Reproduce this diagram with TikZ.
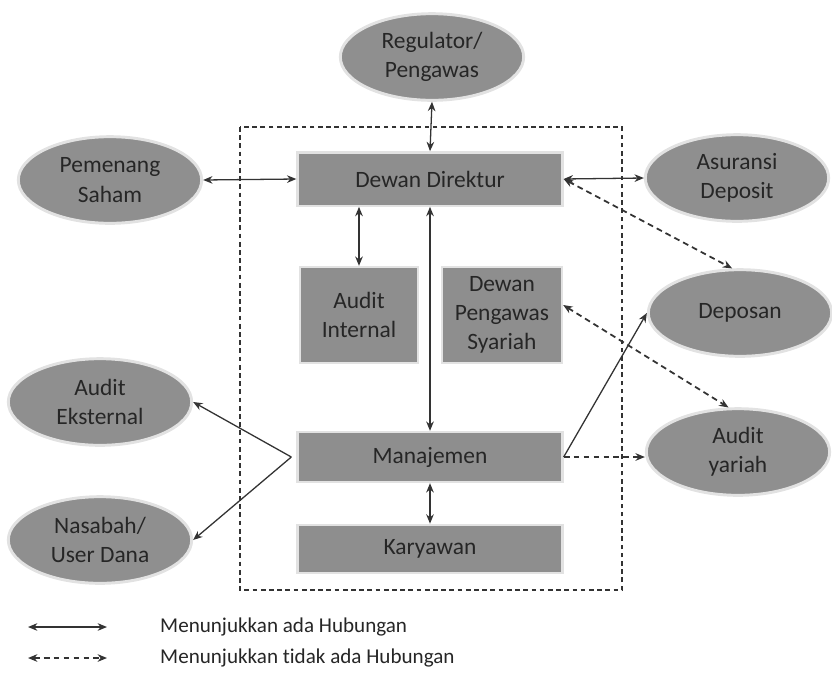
\documentclass[tikz,border=0pt]{standalone}
\usepackage{fontspec}
\setmainfont[Ligatures=NoCommon]{Carlito}
\usetikzlibrary{arrows.meta, positioning, shapes.geometric}
\definecolor{ovalfill}{HTML}{8F8F8F}
\definecolor{boxfill}{HTML}{8E8E8E}
\definecolor{rim}{HTML}{E2E2E2}
\definecolor{ink}{HTML}{262626}
\definecolor{linegray}{HTML}{333333}
\newcommand{\labelfont}{\fontsize{20}{25}\selectfont}
\newcommand{\legendfont}{\fontsize{18}{22}\selectfont}

\begin{document}
\begin{tikzpicture}[
    x=0.03cm, y=-0.03cm,
    >={Stealth[length=8pt, width=6.5pt]},
    party/.style={ellipse, draw=rim, line width=2.5pt, fill=ovalfill, minimum width=5.5cm, minimum height=2.6cm, inner sep=0pt, align=center, text=ink, font=\labelfont},
    unit/.style={draw=rim, line width=2pt, fill=boxfill, minimum width=#1, inner sep=0pt, align=center, text=ink, font=\labelfont},
    frame/.style={linegray, line width=1pt, dash pattern=on 4pt off 3pt},
    rel/.style={linegray, line width=1.1pt},
    norel/.style={linegray, line width=1.5pt, dash pattern=on 5pt off 3.5pt},
]
    \useasboundingbox (0,0) rectangle (832,686);

    % Bank boundary
    \draw[frame] (240,127) rectangle (622,590);

    % Outside parties
    \node[party] (regulator) at (432,57) {Regulator/\\Pengawas};
    \node[party] (pemegang) at (110,180) {Pemenang\\Saham};
    \node[party] (asuransi) at (737,178) {Asuransi\\Deposit};
    \node[party] (deposan) at (740,313) {Deposan};
    \node[party] (auditsy) at (738,452) {Audit\\yariah};
    \node[party] (auditeks) at (100,402) {Audit\\Eksternal};
    \node[party] (nasabah) at (100,540) {Nasabah/\\User Dana};

    % Inside the bank
    \node[unit=7.95cm, minimum height=1.6cm] (direktur) at (430,179) {Dewan Direktur};
    \node[unit=3.55cm, minimum height=2.88cm] (auditint) at (359,315) {Audit\\Internal};
    \node[unit=3.6cm, minimum height=2.88cm] (dps) at (502,315) {Dewan\\Pengawas\\Syariah};
    \node[unit=7.95cm, minimum height=1.5cm] (manajemen) at (430,457) {Manajemen};
    \node[unit=7.95cm, minimum height=1.45cm] (karyawan) at (430,549) {Karyawan};

    % Relations
    \draw[rel, <->] (regulator.south) -- (direktur.north);
    \draw[rel, <->] (pemegang.east) -- (direktur.west);
    \draw[rel, <->] (direktur.east) -- (asuransi.west);
    \draw[rel, <->] (auditint.north) -- (auditint.north |- direktur.south);
    \draw[rel, <->] (direktur.south) -- (manajemen.north);
    \draw[rel, <->] (manajemen.south) -- (karyawan.north);
    \coordinate (mleft) at ([xshift=-0.15cm]manajemen.west);
    \draw[rel, ->] (mleft) -- (auditeks.east);
    \draw[rel, ->] (mleft) -- (nasabah.east);
    \draw[rel, ->] (manajemen.east) -- (deposan.west);

    % No relations
    \draw[norel, <->] (direktur.east) -- (deposan.100);
    \draw[norel, <->] ([yshift=0.3cm]dps.east) -- (auditsy.102);
    \draw[norel, ->] (manajemen.east) -- (manajemen.east -| auditsy.west);

    % Legend
    \coordinate (solidA) at (28,627);
    \coordinate (solidB) at (107,627);
    \coordinate (dashA) at (28,658);
    \coordinate (dashB) at (107,658);
    \draw[rel, <->] (solidA) -- (solidB);
    \draw[norel, <->] (dashA) -- (dashB);
    \node[anchor=west, text=ink, font=\legendfont, inner sep=0pt] (legsolid) at (160,627) {Menunjukkan ada Hubungan};
    \node[anchor=west, text=ink, font=\legendfont, inner sep=0pt] (legdash) at (160,658) {Menunjukkan tidak ada Hubungan};

\end{tikzpicture}
\end{document}
